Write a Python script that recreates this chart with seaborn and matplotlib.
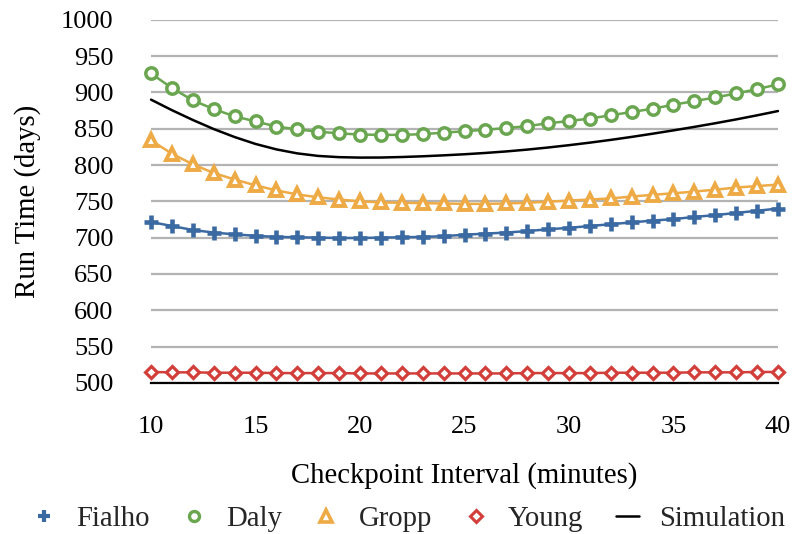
import numpy as np
import pandas as pd
import matplotlib
matplotlib.use("Agg")
import matplotlib.pyplot as plt
import seaborn as sns
from matplotlib.lines import Line2D

x = list(range(10, 41))

fialho = [721.5, 716, 710.5, 707, 704.5, 702.5, 701, 700.5, 700, 699.5, 699.5, 700, 700.5, 701,
          702, 704, 705.5, 707, 709, 711.5, 713.5, 716, 718.5, 721, 723.5, 725.5, 728.5, 731,
          734, 737, 740]
daly = [926, 906, 889, 877, 867, 860, 853, 849, 846, 843.5, 842, 841.5, 841.5, 842.5, 844.5,
        846.5, 848.5, 851, 853.5, 857.5, 860.5, 864, 868.5, 873, 877.5, 883, 888, 893, 898.5,
        904.5, 911]
gropp = [834, 815.5, 801, 789, 780, 772, 765, 759.5, 755.5, 752.5, 750, 748.5, 748, 747.5,
         747, 746.5, 746.5, 747, 748, 749.5, 751, 752.5, 754, 756.5, 759, 761, 763.5, 766,
         769, 771, 773]
young = [515, 514.5, 514.5, 514, 514, 514, 513.5, 513.5, 513.5, 513.5, 513, 513, 513, 513,
         513, 513, 513, 513, 513.5, 513.5, 513.5, 513.5, 514, 514, 514, 514, 514.5, 514.5,
         514.5, 515, 515]
simulation = [890, 875.5, 862, 849.5, 838.5, 829, 821.5, 816, 812.5, 810.8, 810.2, 810.3,
              811, 812, 813.3, 814.8, 816.6, 818.7, 821.2, 824.1, 827.3, 830.8, 834.6, 838.7,
              843.1, 847.7, 852.5, 857.5, 862.8, 868.4, 874.3]

names = ["Fialho", "Daly", "Gropp", "Young", "Simulation"]
colors = {"Fialho": "#3b6aa3", "Daly": "#6aa650", "Gropp": "#eeaa45",
          "Young": "#d23f3a", "Simulation": "#000000"}

df = pd.DataFrame({"x": x * 5,
                   "y": fialho + daly + gropp + young + simulation,
                   "series": sum([[n] * len(x) for n in names], [])})

sns.set_theme(style="white")
plt.rcParams["font.family"] = ["Liberation Serif", "DejaVu Serif"]

fig = plt.figure(figsize=(7.92, 5.34), dpi=100)
ax = fig.add_axes([0.1907, 0.283, 0.7916, 0.68])

styles = {
    "Fialho": dict(marker="+", markersize=10, markeredgewidth=3.3),
    "Daly": dict(marker="o", markersize=8.2, markerfacecolor="white", markeredgewidth=2.5),
    "Gropp": dict(marker="^", markersize=8.8, markerfacecolor="white", markeredgewidth=2.8),
    "Young": dict(marker="D", markersize=6.3, markerfacecolor="white", markeredgewidth=2.3),
}

for n in names:
    sub = df[df["series"] == n]
    c = colors[n]
    if n == "Simulation":
        sns.lineplot(data=sub, x="x", y="y", ax=ax, color=c, lw=1.8, zorder=3)
    else:
        sns.lineplot(data=sub, x="x", y="y", ax=ax, color=c, lw=1.8,
                     markeredgecolor=c, zorder=4, **styles[n])

for line in ax.get_lines():
    line.set_clip_on(False)

ax.set_xlim(10, 40)
ax.set_ylim(500, 1000)
ax.set_xticks([10, 15, 20, 25, 30, 35, 40])
ax.set_yticks(np.arange(500, 1001, 50))
ax.yaxis.grid(True, color="#b3b3b3", lw=1.6)
ax.xaxis.grid(False)
for s in ["top", "right", "left"]:
    ax.spines[s].set_visible(False)
ax.spines["bottom"].set_color("black")
ax.spines["bottom"].set_linewidth(1.6)
ax.spines["bottom"].set_zorder(2)
ax.tick_params(axis="both", labelsize=19, length=0, colors="black")
ax.tick_params(axis="x", pad=24)
ax.tick_params(axis="y", pad=27)
ax.set_xlabel("Checkpoint Interval (minutes)", fontsize=20.7, labelpad=17, color="black")
ax.set_ylabel("Run Time (days)", fontsize=20.7, labelpad=14, color="black")

handles = [
    Line2D([], [], color=colors["Fialho"], marker="+", ls="none", markersize=8.5, markeredgewidth=3),
    Line2D([], [], color=colors["Daly"], marker="o", ls="none", markersize=7.2,
           markerfacecolor="white", markeredgewidth=2.4),
    Line2D([], [], color=colors["Gropp"], marker="^", ls="none", markersize=8,
           markerfacecolor="white", markeredgewidth=2.6),
    Line2D([], [], color=colors["Young"], marker="D", ls="none", markersize=6,
           markerfacecolor="white", markeredgewidth=2.2),
    Line2D([], [], color="black", lw=1.8),
]
fig.legend(handles, names, loc="center", bbox_to_anchor=(0.517, 0.029), ncol=5,
           frameon=False, fontsize=20.7, handlelength=0.77, columnspacing=1.15,
           handletextpad=0.73)

fig.savefig("out.png", dpi=100)
